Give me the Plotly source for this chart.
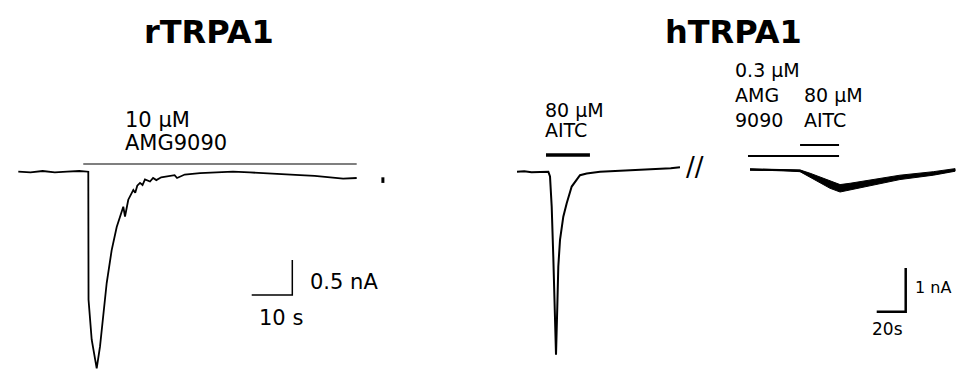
import plotly.graph_objects as go

# ---------------- rTRPA1 recording (time in s, current in nA) ----------------
r_time = [0, 3, 6, 9, 12, 15, 17.24, 17.30, 18.08, 19.31, 20.12, 20.94, 21.77, 23.0,
          24.24, 25.86, 26.28, 27.09, 28.33, 28.8, 29.3, 29.98, 30.6, 31.2, 32.44,
          33.2, 34.0, 35.2, 36.55, 38.5, 39.1, 41.0, 44.75, 48.0, 52.88, 57.0, 61.18,
          65.0, 69.38, 73.0, 77.51, 80.0, 83.35]
r_current = [0.0, -0.01, 0.01, -0.01, 0.0, 0.01, 0.0, -1.83, -2.40, -2.81, -2.50,
             -2.07, -1.59, -1.12, -0.79, -0.50, -0.64, -0.40, -0.26, -0.30, -0.20,
             -0.16, -0.19, -0.11, -0.14, -0.09, -0.12, -0.08, -0.07, -0.05, -0.09,
             -0.04, -0.02, -0.01, 0.0, -0.01, -0.02, -0.03, -0.05, -0.06, -0.08,
             -0.10, -0.09]
r_amg_time = [16.0, 83.35]
r_amg_level = 0.11
r_tail_time = [89.8, 89.8]
r_tail_current = [-0.08, -0.16]
r_scale_s = 10
r_scale_nA = 0.5

# ---------------- hTRPA1 recording ----------------
hL_time = [0, 5, 10, 15, 21.6, 22.76, 23.93, 25.03, 26.2, 26.9, 27.79, 28.48, 29.66,
           31.93, 34.28, 37.72, 43.45, 48.07, 57.24, 65, 72, 80, 90, 100, 106, 112.4]
hL_current = [0.0, 0.01, -0.01, 0.0, 0.0, -0.11, -0.80, -1.95, -3.46, -4.19, -3.09,
              -2.17, -1.56, -1.03, -0.72, -0.34, -0.08, -0.04, 0.0, 0.01, 0.02, 0.04,
              0.05, 0.06, 0.08, 0.10]
h_aitc1_time = [20.0, 50.3]
h_aitc1_level = 0.38

# after the break (time since the second segment began)
hR_time = [0, 23, 34.5, 41.4, 48.3, 55.2, 62.1, 69, 80.5, 103.4, 126.4, 141.4]
hR_current = [0.05, 0.04, 0.02, -0.08, -0.19, -0.30, -0.38, -0.34, -0.27, -0.13, -0.04, 0.04]
hR_noise = [0.015, 0.015, 0.02, 0.045, 0.065, 0.08, 0.085, 0.075, 0.065, 0.05, 0.04, 0.03]
h_amg_time = [-1.4, 61.4]
h_amg_level = 0.36
h_aitc2_time = [34.5, 61.4]
h_aitc2_level = 0.61
h_scale_s = 20
h_scale_nA = 1

# ---------------- layout constants ----------------
W, H = 961, 371
BREAK_OFFSET = 160.7          # display gap for the second hTRPA1 segment (s)
R_BAR_CORNER = (67.49, -1.761)
H_BAR_CORNER = (268.07, -3.204)
FONT = "DejaVu Sans"

fig = go.Figure()

def line(x, y, axes, width, color="black"):
    fig.add_trace(go.Scatter(x=x, y=y, mode="lines", xaxis=axes[0], yaxis=axes[1],
                             line=dict(color=color, width=width), hoverinfo="skip",
                             showlegend=False))

R = ("x", "y")
Hx = ("x2", "y2")

# rTRPA1
line(r_time, r_current, R, 1.8)
line(r_amg_time, [r_amg_level] * 2, R, 1.2)
line(r_tail_time, r_tail_current, R, 3)
cx, cy = R_BAR_CORNER
line([cx - r_scale_s, cx, cx], [cy, cy, cy + r_scale_nA], R, 1.5)

# hTRPA1 left
line(hL_time, hL_current, Hx, 2)
line(h_aitc1_time, [h_aitc1_level] * 2, Hx, 3.5)

# hTRPA1 right (noisy band)
t_disp = [t + BREAK_OFFSET for t in hR_time]
upper = [c + n for c, n in zip(hR_current, hR_noise)]
lower = [c - n for c, n in zip(hR_current, hR_noise)]
fig.add_trace(go.Scatter(x=t_disp + t_disp[::-1], y=upper + lower[::-1], mode="lines",
                         fill="toself", fillcolor="black", line=dict(color="black", width=1),
                         xaxis="x2", yaxis="y2", hoverinfo="skip", showlegend=False))
line(t_disp, hR_current, Hx, 2)
line([t + BREAK_OFFSET for t in h_amg_time], [h_amg_level] * 2, Hx, 2)
line([t + BREAK_OFFSET for t in h_aitc2_time], [h_aitc2_level] * 2, Hx, 2)
cx, cy = H_BAR_CORNER
line([cx - h_scale_s, cx, cx], [cy, cy, cy + h_scale_nA], Hx, 2.5)

def label(text, x_px, y_px, size, xanchor="left", bold=False):
    fig.add_annotation(x=x_px / W, y=1 - y_px / H, xref="paper", yref="paper",
                       text=f"<b>{text}</b>" if bold else text, showarrow=False,
                       xanchor=xanchor, yanchor="middle",
                       font=dict(family=FONT, size=size, color="black"))

label("rTRPA1", 208.5, 32, 32, "center", True)
label("hTRPA1", 733, 32, 32, "center", True)
label("10 µM", 123, 119.5, 21)
label("AMG9090", 123, 142.5, 21)
label("0.5 nA", 308, 281.5, 21)
label("10 s", 257, 317.5, 21)
label("80 µM", 543, 109.5, 19)
label("AITC", 543, 130, 19)
label("0.3 µM", 733, 69.5, 19)
label("AMG", 733, 95, 19)
label("9090", 733, 120.5, 19)
label("80 µM", 802, 95, 19)
label("AITC", 802, 120.5, 19)
label("1 nA", 913, 287.5, 16)
label("20s", 870, 329, 17)
label("//", 695, 167, 26, "center")

fig.update_layout(
    width=W, height=H, margin=dict(l=0, r=0, t=0, b=0),
    paper_bgcolor="white", plot_bgcolor="rgba(0,0,0,0)", showlegend=False,
    xaxis=dict(domain=[0, 450 / W], range=[-4.507, 106.33], visible=False),
    yaxis=dict(domain=[0, 1], range=[-2.847, 2.453], visible=False),
    xaxis2=dict(domain=[450 / W, 1], range=[-46.21, 306.2], visible=False, anchor="y2"),
    yaxis2=dict(domain=[0, 1], range=[-4.561, 3.929], visible=False, anchor="x2"),
)

fig.write_html("out.html")
